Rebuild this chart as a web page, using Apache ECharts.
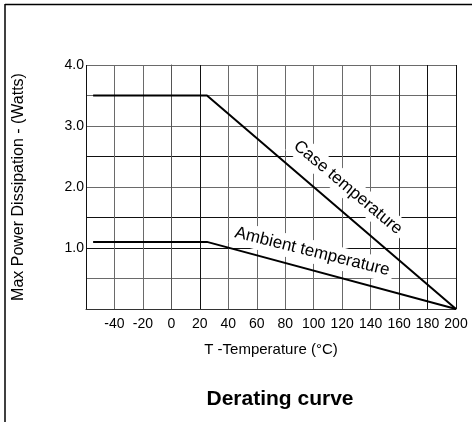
<!DOCTYPE html>
<html>
<head>
<meta charset="utf-8">
<script src="https://cdn.jsdelivr.net/npm/echarts@6/dist/echarts.min.js"></script>
<style>
html,body{margin:0;padding:0;background:#fff;}
#c{width:472px;height:422px;}
</style>
</head>
<body>
<div id="c"></div>
<script>
// ---- data ----
var caseTemp = [[-55, 3.5], [25, 3.5], [200, 0]];
var ambientTemp = [[-55, 1.1], [25, 1.1], [200, 0]];
var xTickValues = [-40, -20, 0, 20, 40, 60, 80, 100, 120, 140, 160, 180, 200];
var yTickValues = [1.0, 2.0, 3.0, 4.0];
var caseLabelText = 'Case temperature';
var ambientLabelText = 'Ambient temperature';
var caseLabelAt = [124, 1.99];
var ambientLabelAt = [99, 0.94];

var FONT = '"Liberation Sans", Arial, sans-serif';
var G = '#6a6a6a', K = '#111';

var chart = echarts.init(document.getElementById('c'), null, {renderer: 'canvas'});

var option = {
  backgroundColor: '#fff',
  animation: false,
  title: {
    text: 'Derating curve',
    left: 275, top: 384, textAlign: 'center',
    textStyle: {fontFamily: FONT, fontSize: 21, fontWeight: 'bold', color: '#000'}
  },
  grid: {left: 86, right: 16, top: 65, bottom: 113},
  xAxis: {
    type: 'value', min: -60, max: 200, interval: 20,
    name: 'T -Temperature (°C)', nameLocation: 'middle', nameGap: 33,
    nameTextStyle: {fontFamily: FONT, fontSize: 15, color: '#000'},
    axisLine: {show: true, lineStyle: {color: '#333', width: 1}},
    axisTick: {show: false},
    axisLabel: {
      margin: 8, fontFamily: FONT, fontSize: 14, color: '#000',
      formatter: function (v) { return xTickValues.indexOf(v) >= 0 ? String(v) : ''; }
    },
    splitLine: {show: true, lineStyle: {width: 1,
      color: [K, G, G, G, K, G, G, G, G, G, G, '#333', K, K]}}
  },
  yAxis: {
    type: 'value', min: 0, max: 4, interval: 0.5,
    name: 'Max Power Dissipation - (Watts)', nameLocation: 'middle', nameGap: 59,
    nameTextStyle: {fontFamily: FONT, fontSize: 16, color: '#000'},
    axisLine: {show: true, lineStyle: {color: '#555', width: 1}},
    axisTick: {show: false},
    axisLabel: {
      margin: 2, fontFamily: FONT, fontSize: 14, color: '#000',
      formatter: function (v) { return yTickValues.indexOf(v) >= 0 ? v.toFixed(1) : ''; }
    },
    splitLine: {show: true, lineStyle: {width: 1,
      color: [K, G, K, K, G, K, G, G, G]}}
  },
  series: [
    {name: 'Case', type: 'line', data: caseTemp, symbol: 'none', z: 5,
     lineStyle: {color: '#000', width: 2}},
    {name: 'Ambient', type: 'line', data: ambientTemp, symbol: 'none', z: 5,
     lineStyle: {color: '#000', width: 2}}
  ]
};
chart.setOption(option);

var p1 = chart.convertToPixel({gridIndex: 0}, caseLabelAt);
var p2 = chart.convertToPixel({gridIndex: 0}, ambientLabelAt);
chart.setOption({
  graphic: [
    {type: 'line', z: 10, shape: {x1: 5, y1: 4.5, x2: 472, y2: 4.5}, style: {stroke: '#000', lineWidth: 1.5}},
    {type: 'line', z: 10, shape: {x1: 5, y1: 4, x2: 5, y2: 422}, style: {stroke: '#000', lineWidth: 1.5}},
    {type: 'text', z: 1, x: p1[0], y: p1[1], rotation: -40 * Math.PI / 180,
     style: {text: caseLabelText, font: '17px ' + FONT, fill: '#000', align: 'center', verticalAlign: 'middle',
             backgroundColor: '#fff', padding: [3, 4]}},
    {type: 'text', z: 1, x: p2[0], y: p2[1], rotation: -14 * Math.PI / 180,
     style: {text: ambientLabelText, font: '17px ' + FONT, fill: '#000', align: 'center', verticalAlign: 'middle',
             backgroundColor: '#fff', padding: [3, 4]}}
  ]
});
</script>
</body>
</html>
